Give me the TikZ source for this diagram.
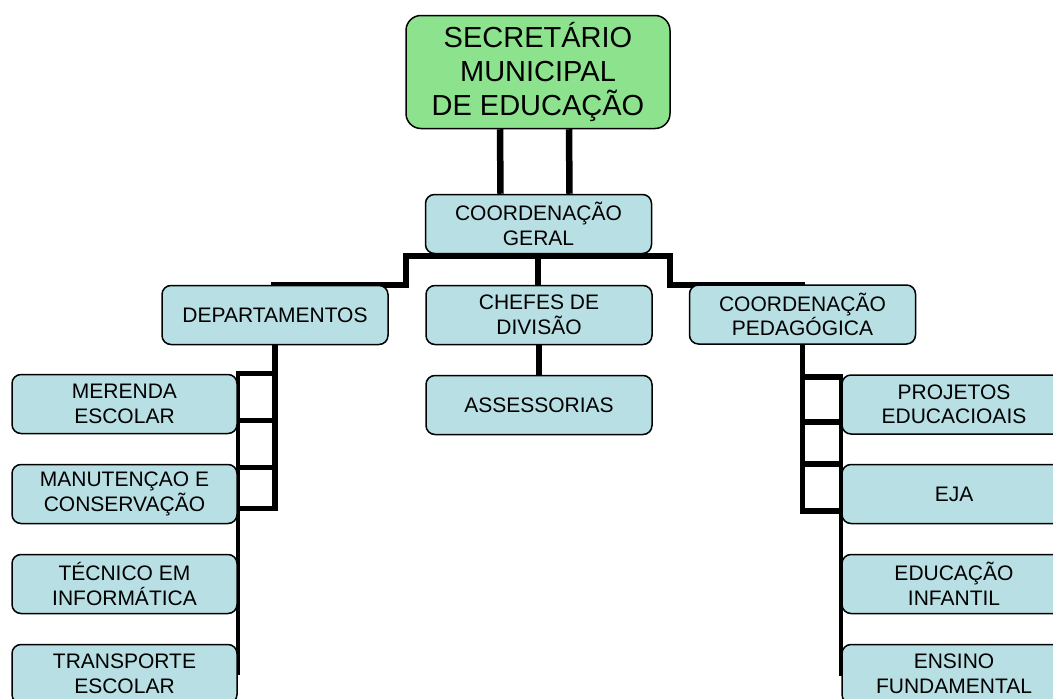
\documentclass[tikz,border=0pt]{standalone}
\usepackage{fontspec}
\setmainfont{Liberation Sans}
\usetikzlibrary{positioning}

\tikzset{
  unit/.style={draw=black,line width=1.5pt,fill=boxblue,rounded corners=9pt,
    minimum width=226pt,minimum height=59pt,align=center,inner sep=2pt,
    font=\fontsize{21}{24.5}\selectfont},
  head/.style={unit,fill=boxgreen,rounded corners=15pt,minimum width=264pt,
    minimum height=113pt,font=\fontsize{29}{34}\selectfont},
  link/.style={line width=5.5pt},
  thinlink/.style={line width=4pt}
}
\definecolor{boxblue}{HTML}{B8DFE3}
\definecolor{boxgreen}{HTML}{8DE38D}

\begin{document}
\begin{tikzpicture}[x=1pt,y=-1pt,cap=rect]
        \useasboundingbox (0,0) rectangle (1053,699);

        % connectors first, the boxes go on top
        \coordinate (geralbar) at (538,256);

        % the top level
        \node[head] (sec) at (538,72) {SECRETÁRIO\\MUNICIPAL\\DE EDUCAÇÃO};
        \node[unit] (geral) at (538.5,224) {COORDENAÇÃO\\GERAL};

        \draw[link,line width=6.5pt,cap=butt] ([xshift=-38pt]sec.south) -- ([xshift=-38pt]geral.north);
        \draw[link,line width=6.5pt,cap=butt] ([xshift=31pt]sec.south) -- ([xshift=31pt]geral.north);

        % the second level
        \coordinate (dtop) at (274,285);
        \coordinate (ptop) at (802.5,285);
        \draw[link] (dtop) -| ([xshift=-132pt]geralbar) -- ([xshift=132pt]geralbar) |- (ptop);
        \draw[link] (geralbar) -- (538,285);

        \node[unit] (dept) at (275,315) {DEPARTAMENTOS};
        \node[unit] (chefes) at (539,315) {CHEFES DE\\DIVISÃO};
        \node[unit] (pedag) at (802.5,314.5) {COORDENAÇÃO\\PEDAGÓGICA};
        \node[unit] (assess) at (539,405) {ASSESSORIAS};

        \draw[link,cap=butt] (chefes.south) -- (assess.north);

        % departamentos and their units
        \draw[link,cap=butt] (dept.south) -- ++(0,165);
        \foreach \d in {28,75,122,163}
                \draw[link] ([yshift=-\d pt]dept.south) -- ++(-36,0);
        \draw[thinlink] ([shift={(-37pt,-28pt)}]dept.south) -- ++(0,300);

        \foreach \n/\y/\txt in {
            m1/404/MERENDA\\ESCOLAR,
            m2/494/MANUTENÇAO E\\CONSERVAÇÃO,
            m3/584/TÉCNICO EM\\INFORMÁTICA,
            m4/674/TRANSPORTE\\ESCOLAR}
                \node[unit,minimum width=225pt] (\n) at (124.5,\y) {\txt};

        % coordenacao pedagogica and its units
        \draw[link,cap=butt] (pedag.south) -- ++(0,168);
        \foreach \d in {32,77,119,166}
                \draw[link] ([yshift=-\d pt]pedag.south) -- ++(37.5,0);
        \draw[thinlink] ([shift={(38pt,-32pt)}]pedag.south) -- ++(0,297);

        \foreach \n/\y/\txt in {
            p1/404.5/PROJETOS\\EDUCACIOAIS,
            p2/494/EJA,
            p3/584/EDUCAÇÃO\\INFANTIL,
            p4/674/ENSINO\\FUNDAMENTAL}
                \node[unit,minimum width=224pt] (\n) at (954,\y) {\txt};
\end{tikzpicture}
\end{document}
